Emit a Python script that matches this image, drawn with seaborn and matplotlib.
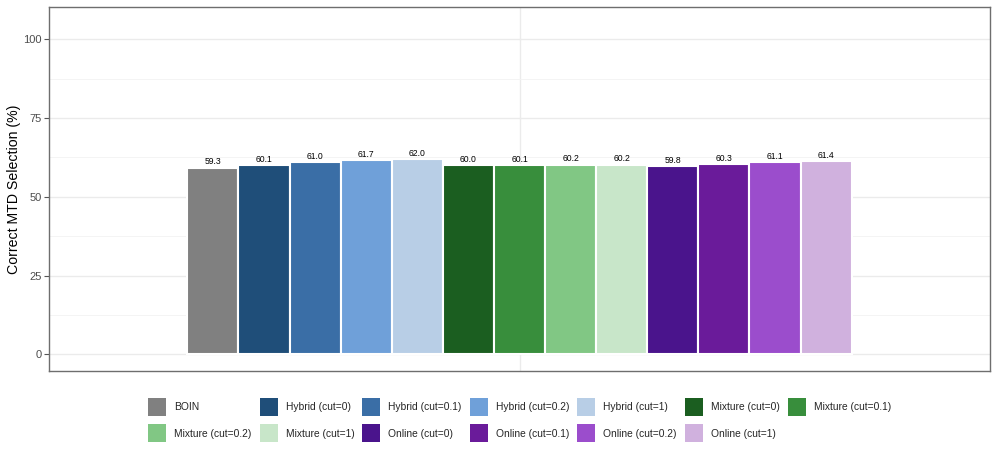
import matplotlib.pyplot as plt
import pandas as pd
import seaborn as sns
from matplotlib.patches import Patch
from matplotlib.ticker import MultipleLocator

methods = [
    "BOIN",
    "Hybrid (cut=0)", "Hybrid (cut=0.1)", "Hybrid (cut=0.2)", "Hybrid (cut=1)",
    "Mixture (cut=0)", "Mixture (cut=0.1)", "Mixture (cut=0.2)", "Mixture (cut=1)",
    "Online (cut=0)", "Online (cut=0.1)", "Online (cut=0.2)", "Online (cut=1)",
]
selection = [59.3, 60.1, 61.0, 61.7, 62.0, 60.0, 60.1, 60.2, 60.2, 59.8, 60.3, 61.1, 61.4]
colors = [
    "#808080",
    "#1f4e79", "#3a6ea6", "#6fa0d9", "#b8cee6",
    "#1b5e20", "#388e3c", "#81c784", "#c8e6c9",
    "#4a148c", "#6a1b9a", "#9b4dcc", "#d0b1de",
]

sns.set_theme(style="white")
plt.rcParams["font.family"] = ["Liberation Sans", "DejaVu Sans"]

df = pd.DataFrame({"grp": [""] * len(methods), "method": methods, "value": selection})

fig, ax = plt.subplots(figsize=(9.96, 4.57), dpi=100)
fig.subplots_adjust(left=49 / 996, right=990 / 996, top=1 - 7 / 457, bottom=1 - 371 / 457)

sns.barplot(
    data=df, x="grp", y="value", hue="method", hue_order=methods,
    palette=colors, width=0.847, edgecolor="white", linewidth=1.5,
    saturation=1, legend=False, ax=ax,
)

for cont in ax.containers:
    ax.bar_label(cont, fmt="%.1f", fontsize=6.2, padding=1, color="black")

ax.set_ylim(-5.25, 110.25)
ax.set_xlim(-0.6, 0.6)
ax.yaxis.set_major_locator(MultipleLocator(25))
ax.yaxis.set_minor_locator(MultipleLocator(12.5))
ax.set_yticks([0, 25, 50, 75, 100])
ax.set_xticks([0])
ax.set_xticklabels([""])
ax.set_xlabel("")
ax.set_ylabel("Correct MTD Selection (%)", fontsize=10.2, color="black", labelpad=2)
ax.grid(True, which="major", color="#ebebeb", linewidth=1.0)
ax.grid(True, which="minor", axis="y", color="#f3f3f3", linewidth=0.6)
ax.set_axisbelow(True)
ax.tick_params(axis="y", which="major", length=3.5, width=0.8, color="#555555",
               labelsize=8, labelcolor="#4d4d4d", left=True, pad=1.5)
ax.tick_params(axis="y", which="minor", length=0)
ax.tick_params(axis="x", length=0)
for sp in ax.spines.values():
    sp.set_color("#6e6e6e")
    sp.set_linewidth(1.0)

# legend, filled row-wise like ggplot
handles = [Patch(facecolor=c, edgecolor="none", label=m) for m, c in zip(methods, colors)]
order = [0, 7, 1, 8, 2, 9, 3, 10, 4, 11, 5, 12, 6]
fig.legend(
    [handles[i] for i in order], [methods[i] for i in order],
    loc="center", bbox_to_anchor=(519.5 / 996, 1 - 420 / 457), ncol=7,
    frameon=False, fontsize=7.4, handlelength=1.75, handleheight=2.3,
    handletextpad=0.78, columnspacing=0.78, labelspacing=0.87, borderpad=0,
)

fig.savefig("out.png", dpi=100)
